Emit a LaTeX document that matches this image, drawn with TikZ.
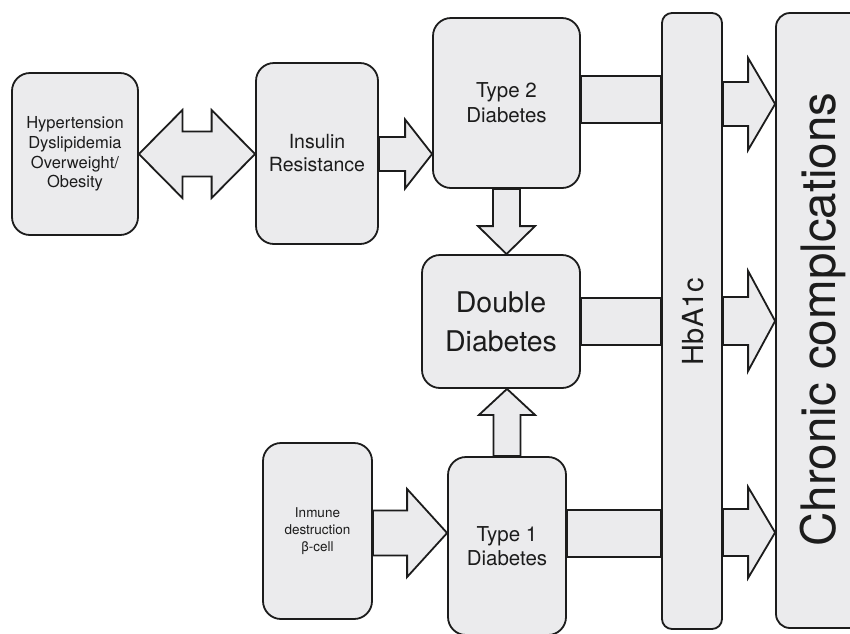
\documentclass[tikz,border=0pt]{standalone}
\usepackage{fontspec}
\setmainfont{TeX Gyre Heros}
\usetikzlibrary{calc}
\pgfdeclarelayer{back}
\pgfsetlayers{back,main}
\definecolor{boxfill}{HTML}{EBEBED}
\definecolor{ink}{HTML}{1C1C1C}

\tikzset{
  box/.style={draw=ink, fill=boxfill, line width=1.8pt, rounded corners=18pt,
    inner sep=0pt, align=center, text=ink},
  blockarrow/.style={draw=ink, fill=boxfill, line width=1.8pt, line join=miter},
  lbl/.style={text=ink, inner sep=0pt, anchor=base, rotate=90},
}

% single-headed horizontal block arrow: from, to (tip), row y, shaft half, head half, head length
\newcommand\blockH[6]{%
  \path[blockarrow] let \p1=(#1), \p2=(#2), \p3=(0,#3) in
    (\x1,\y3+#4) -- (\x2-#6,\y3+#4) -- (\x2-#6,\y3+#5) -- (\x2,\y3)
    -- (\x2-#6,\y3-#5) -- (\x2-#6,\y3-#4) -- (\x1,\y3-#4) -- cycle;}
% plain bar between two boxes: from, to, row y, half height
\newcommand\blockBar[4]{%
  \path[blockarrow] let \p1=(#1), \p2=(#2), \p3=(0,#3) in
    (\x1,\y3+#4) rectangle (\x2,\y3-#4);}
% vertical block arrow: from, to (tip), column x, shaft half, head half, head length (signed)
\newcommand\blockV[6]{%
  \path[blockarrow] let \p1=(#1), \p2=(#2), \p3=(#3,0) in
    (\x3-#4,\y1) -- (\x3-#4,\y2+#6) -- (\x3-#5,\y2+#6) -- (\x3,\y2)
    -- (\x3+#5,\y2+#6) -- (\x3+#4,\y2+#6) -- (\x3+#4,\y1) -- cycle;}
% two-headed horizontal block arrow
\newcommand\blockBoth[6]{%
  \path[blockarrow] let \p1=(#1), \p2=(#2), \p3=(0,#3) in
    (\x1,\y3) -- (\x1+#6,\y3+#5) -- (\x1+#6,\y3+#4) -- (\x2-#6,\y3+#4)
    -- (\x2-#6,\y3+#5) -- (\x2,\y3) -- (\x2-#6,\y3-#5) -- (\x2-#6,\y3-#4)
    -- (\x1+#6,\y3-#4) -- (\x1+#6,\y3-#5) -- cycle;}

\begin{document}
\begin{tikzpicture}[x=1pt,y=-1pt]
\clip (0,0) rectangle (850,633);

% boxes
\node[box, minimum width=126pt, minimum height=162pt,
  font=\fontsize{16.5}{19.7}\selectfont] (risk) at (75,154)
  {Hypertension\\Dyslipidemia\\Overweight/\\Obesity};
\node[box, minimum width=122pt, minimum height=181pt,
  font=\fontsize{19.5}{23}\selectfont] (ir) at (317,153.5) {Insulin\\Resistance};
\node[box, minimum width=147pt, minimum height=170pt,
  font=\fontsize{20.5}{25}\selectfont] (t2) at (506.5,103) {Type 2\\Diabetes};
\node[box, minimum width=158pt, minimum height=133pt,
  font=\fontsize{28.5}{39}\selectfont] (dd) at (501,321.5) {Double\\Diabetes};
\node[box, minimum width=109pt, minimum height=176pt,
  font=\fontsize{13.5}{17}\selectfont] (imm) at (317.5,531) {Inmune\\destruction\\β-cell};
\node[box, minimum width=118pt, minimum height=178pt,
  font=\fontsize{20.5}{24}\selectfont] (t1) at (507,546) {Type 1\\Diabetes};
\node[box, rounded corners=10pt, minimum width=60pt, minimum height=616pt] (hb) at (692,321) {};
\node[box, rounded corners=14pt, minimum width=94pt, minimum height=615pt] (chr) at (823,320.5) {};

% vertical labels
\node[lbl, font=\fontsize{29}{29}\selectfont] (hbtext) at (703,321.5) {HbA1c};
\node[lbl, font=\fontsize{47.5}{48}\selectfont] (chrtext) at (835,319.5) {Chronic complcations};

% block arrows under the boxes
\begin{pgfonlayer}{back}
\fill[white] (0,0) rectangle (850,633);
\blockBoth{risk.east}{ir.west}{154}{22.5pt}{44pt}{43.5pt}
\blockH{ir.east}{t2.west}{154}{17pt}{34.5pt}{27pt}
\blockV{t2.south}{dd.north}{506.5}{13.5pt}{28.5pt}{28pt}
\blockV{t1.north}{dd.south}{507}{13.5pt}{28pt}{-26pt}
\blockH{imm.east}{t1.west}{533}{22.5pt}{44pt}{40pt}
\blockBar{t2.east}{hb.west}{99.5}{23.5pt}
\blockBar{dd.east}{hb.west}{321.5}{23.5pt}
\blockBar{t1.east}{hb.west}{533.5}{23.5pt}
\blockH{hb.east}{chr.west}{104}{22pt}{46pt}{27pt}
\blockH{hb.east}{chr.west}{321}{24pt}{50pt}{27pt}
\blockH{hb.east}{chr.west}{532.5}{23.5pt}{45.5pt}{27pt}
\end{pgfonlayer}
\end{tikzpicture}
\end{document}
